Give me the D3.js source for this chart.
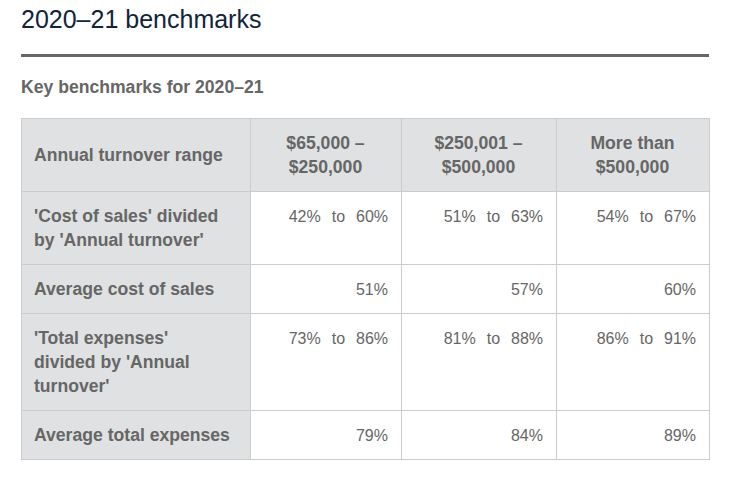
<!DOCTYPE html>
<html><head><meta charset="utf-8">
<script src="https://cdn.jsdelivr.net/npm/d3@7"></script>
<style>
html,body{margin:0;padding:0;background:#fff;}
svg{display:block;font-family:"Liberation Sans",Arial,Helvetica,sans-serif;}
</style></head>
<body>
<svg id="chart" width="739" height="490"></svg>
<script>
// ---- data ----
const title = "2020–21 benchmarks";
const subtitle = "Key benchmarks for 2020–21";
const cornerLabel = ["Annual turnover range"];
const turnoverRanges = [["$65,000 –", "$250,000"], ["$250,001 –", "$500,000"], ["More than", "$500,000"]];
const rowLabels = [
  ["'Cost of sales' divided", "by 'Annual turnover'"],
  ["Average cost of sales"],
  ["'Total expenses'", "divided by 'Annual", "turnover'"],
  ["Average total expenses"]
];
const costOfSalesLow = [42, 51, 54];
const costOfSalesHigh = [60, 63, 67];
const avgCostOfSales = [51, 57, 60];
const totalExpensesLow = [73, 81, 86];
const totalExpensesHigh = [86, 88, 91];
const avgTotalExpenses = [79, 84, 89];

// ---- layout ----
const svg = d3.select("#chart");
svg.append("rect").attr("width", 739).attr("height", 490).attr("fill", "#fff");

const left = 21, right = 709;
const colEdges = [21, 250, 401, 556, 709];
const tableTop = 118;
const lineH = 24, padTop = 12, padBottom = 13, padX = 13;
const grey = "#dfe1e2", border = "#cccccc", textCol = "#666666";

svg.append("text").attr("x", left).attr("y", 28)
  .attr("font-size", 25).attr("fill", "#10243a").text(title);
svg.append("rect").attr("x", left).attr("y", 54).attr("width", right - left).attr("height", 3).attr("fill", "#666666");
svg.append("text").attr("x", left).attr("y", 93)
  .attr("font-size", 17.6).attr("font-weight", "bold").attr("fill", textCol).text(subtitle);

const pct = v => v + "%";
const range = (lo, hi) => lo.map((v, i) => pct(v) + " to " + pct(hi[i]));
const bodyValues = [
  range(costOfSalesLow, costOfSalesHigh),
  avgCostOfSales.map(pct),
  range(totalExpensesLow, totalExpensesHigh),
  avgTotalExpenses.map(pct)
];

// rows: header + body
const rows = [{header: true, label: cornerLabel, cells: turnoverRanges}]
  .concat(rowLabels.map((l, i) => ({header: false, label: l, cells: bodyValues[i].map(s => [s])})));
rows.forEach(r => {
  const lines = Math.max(r.label.length, d3.max(r.cells, c => c.length));
  r.h = padTop + padBottom + lines * lineH;
});
let yAcc = tableTop;
rows.forEach(r => { r.y = yAcc; yAcc += r.h; });
const tableBottom = yAcc;

const x = d3.scaleOrdinal().domain(d3.range(4)).range(colEdges.slice(0, 4));
const w = i => colEdges[i + 1] - colEdges[i];

const g = svg.append("g");
const rowG = g.selectAll("g.row").data(rows).join("g").attr("class", "row")
  .attr("transform", d => `translate(0,${d.y})`);

// backgrounds
rowG.each(function(r) {
  const sel = d3.select(this);
  const cells = [r.label].concat(r.cells);
  cells.forEach((c, ci) => {
    sel.append("rect").attr("x", x(ci)).attr("y", 0).attr("width", w(ci)).attr("height", r.h)
      .attr("fill", (r.header || ci === 0) ? grey : "#fff");
  });
  cells.forEach((c, ci) => {
    const isBold = r.header || ci === 0;
    const t = sel.append("text").attr("fill", textCol)
      .attr("font-size", isBold ? 17.6 : 16)
      .attr("font-weight", isBold ? "bold" : "normal");
    let anchor, tx;
    if (ci === 0) { anchor = "start"; tx = x(ci) + padX; }
    else if (r.header) { anchor = "middle"; tx = x(ci) + w(ci) / 2; }
    else { anchor = "end"; tx = x(ci) + w(ci) - padX; }
    t.attr("text-anchor", anchor);
    if (!isBold) t.attr("word-spacing", "6.5px").style("word-spacing", "6.5px");
    const y0 = r.header ? (r.h / 2 - c.length * lineH / 2 + 18.3) : (padTop + 18.7);
    c.forEach((line, li) => {
      t.append("tspan").attr("x", tx).attr("y", y0 + li * lineH).text(line);
    });
  });
});

// grid lines
const gridG = svg.append("g").attr("stroke", border).attr("stroke-width", 1).attr("shape-rendering", "crispEdges");
colEdges.forEach(cx => {
  gridG.append("line").attr("x1", cx + 0.5).attr("x2", cx + 0.5).attr("y1", tableTop).attr("y2", tableBottom + 1);
});
[tableTop].concat(rows.map(r => r.y + r.h)).forEach(ry => {
  gridG.append("line").attr("x1", left).attr("x2", right + 1).attr("y1", ry + 0.5).attr("y2", ry + 0.5);
});
</script>
</body></html>
